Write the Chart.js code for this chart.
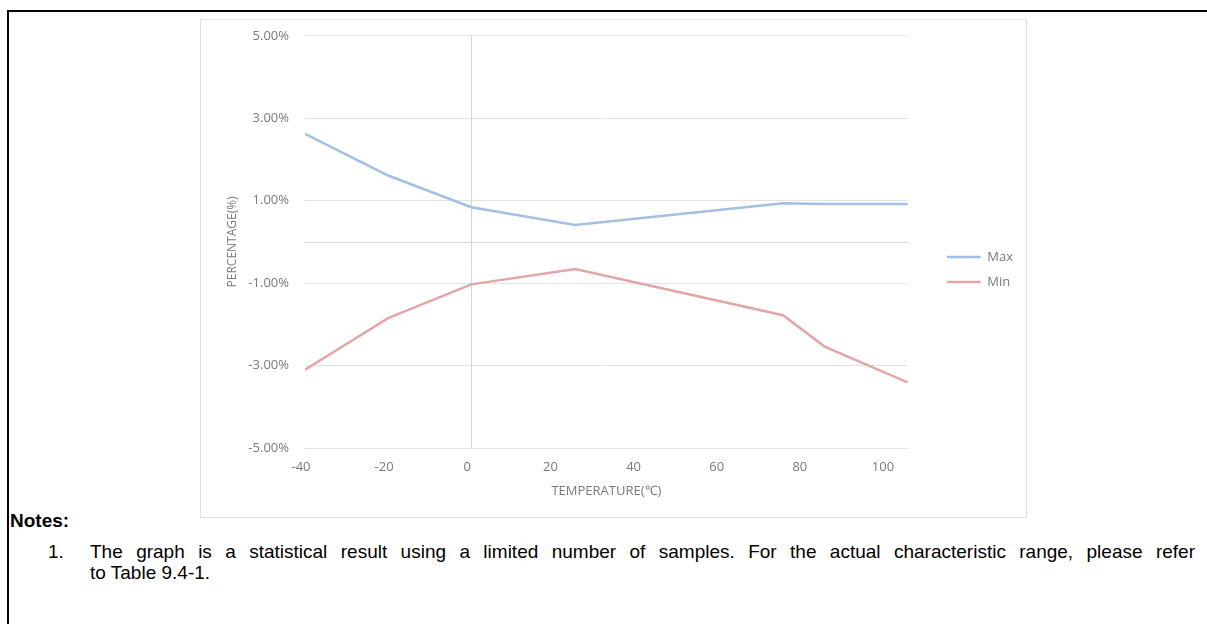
<!DOCTYPE html>
<html>
<head>
<meta charset="utf-8">
<script src="https://cdn.jsdelivr.net/npm/chart.js@4"></script>
<style>
  body { margin: 0; width: 1207px; height: 624px; background: #fff; overflow: hidden; position: relative; font-family: "Liberation Sans", Arial, sans-serif; }
  #outer { position: absolute; left: 7px; top: 10px; width: 1300px; height: 700px; border-left: 2px solid #000; border-top: 2px solid #000; }
  #frame { position: absolute; left: 200px; top: 19px; width: 827px; height: 499px; box-sizing: border-box; border: 1px solid #e0e0e0; }
  #chart { position: absolute; left: 0; top: -8px; }
  .note { position: absolute; font-size: 19px; line-height: 22px; color: #000; white-space: nowrap; }
  .just { white-space: normal; width: 1105px; text-align: justify; text-align-last: justify; }
</style>
</head>
<body>
<div id="outer"></div>
<div class="note" style="left:10px; top:510px; font-weight:bold;">Notes:</div>
<div class="note" style="left:48px; top:541px;">1.</div>
<div class="note just" style="left:90px; top:541px;">The graph is a statistical result using a limited number of samples. For the actual characteristic range, please refer</div>
<div class="note" style="left:90px; top:562px;">to Table 9.4-1.</div>
<div id="frame"><canvas id="chart" width="825" height="515"></canvas></div>
<script>
const temperatures = [-40, -20, 0, 25, 75, 85, 105];
const maxValues = [2.62, 1.61, 0.84, 0.41, 0.94, 0.92, 0.92];
const minValues = [-3.10, -1.85, -1.03, -0.66, -1.78, -2.54, -3.41];
const seriesNames = ['Max', 'Min'];

const textColor = '#7a7a7a';
const gridColor = '#e3e3e3';
const labelFont = { family: '"Open Sans", sans-serif', size: 13 };

// axis lines crossing at 0 (Excel style), labels stay at the low side
const zeroLines = {
    id: 'zeroLines',
    beforeDatasetsDraw(chart) {
        const { ctx, chartArea, scales } = chart;
        const x0 = Math.round(scales.x.getPixelForValue(0)) + 0.5;
        const y0 = Math.round(scales.y.getPixelForValue(0)) + 0.5;
        ctx.save();
        ctx.strokeStyle = '#d6d6d6';
        ctx.lineWidth = 1;
        ctx.beginPath();
        ctx.moveTo(chartArea.left, y0);
        ctx.lineTo(chartArea.right, y0);
        ctx.moveTo(x0, chartArea.top);
        ctx.lineTo(x0, chartArea.bottom);
        ctx.stroke();
        ctx.restore();
    }
};

const toPoints = vals => temperatures.map((t, i) => ({ x: t, y: vals[i] }));

new Chart(document.getElementById('chart').getContext('2d'), {
    type: 'line',
    data: {
        datasets: [{
            label: seriesNames[0],
            data: toPoints(maxValues),
            borderColor: '#a3bfe3',
            backgroundColor: '#a3bfe3',
            borderWidth: 2.5,
            pointRadius: 0,
            tension: 0
        }, {
            label: seriesNames[1],
            data: toPoints(minValues),
            borderColor: '#e3a5a5',
            backgroundColor: '#e3a5a5',
            borderWidth: 2.5,
            pointRadius: 0,
            tension: 0
        }]
    },
    options: {
        responsive: false,
        animation: false,
        devicePixelRatio: 1,
        layout: { padding: { top: 0, right: 3, bottom: 0, left: 0 } },
        plugins: {
            tooltip: { enabled: false },
            legend: {
                position: 'right',
                labels: {
                    color: textColor,
                    font: labelFont,
                    usePointStyle: true,
                    pointStyle: 'line',
                    pointStyleWidth: 34,
                    padding: 12
                }
            }
        },
        scales: {
            x: {
                type: 'linear',
                min: -40,
                max: 105,
                afterFit: s => { s.height = 79; },
                grid: { display: false, drawTicks: false },
                border: { display: false },
                ticks: {
                    stepSize: 20,
                    includeBounds: false,
                    autoSkip: false,
                    maxRotation: 0,
                    padding: 11,
                    labelOffset: -4,
                    color: textColor,
                    font: labelFont
                },
                title: {
                    display: true,
                    text: 'TEMPERATURE(℃)',
                    color: textColor,
                    font: labelFont,
                    padding: { top: 0, bottom: 28 }
                }
            },
            y: {
                min: -5,
                max: 5,
                afterFit: s => { s.width = 104; },
                grid: { color: gridColor, drawTicks: false },
                border: { display: false },
                ticks: {
                    stepSize: 2,
                    padding: 16,
                    color: textColor,
                    font: labelFont,
                    callback: v => v.toFixed(2) + '%'
                },
                title: {
                    display: true,
                    text: 'PERCENTAGE(%)',
                    color: textColor,
                    font: { family: '"Open Sans", sans-serif', size: 12 },
                    padding: { top: 24, bottom: 0 }
                }
            },
            // spacer between plot and legend
            gap: {
                position: 'right',
                afterFit: s => { s.width = 27; },
                grid: { display: false, drawTicks: false },
                border: { display: false },
                ticks: { display: false }
            }
        }
    },
    plugins: [zeroLines]
});
</script>
</body>
</html>
